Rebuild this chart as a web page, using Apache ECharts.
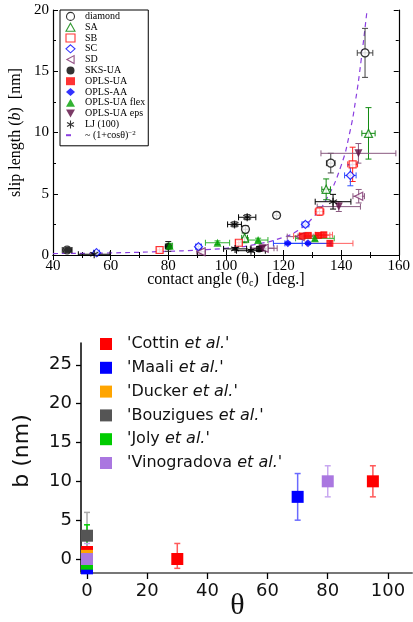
<!DOCTYPE html>
<html>
<head>
<meta charset="utf-8">
<script src="https://cdn.jsdelivr.net/npm/echarts@6/dist/echarts.min.js"></script>
<style>
  html, body { margin: 0; padding: 0; background: #fff; }
  #main { width: 413px; height: 622px; }
</style>
</head>
<body>
<div id="main"></div>
<script>
// top panel points: [theta, b, dTheta, dB]
const diamondPts = [[44.9, 0.41, 1.7, 0.15], [106.8, 2.1, 1.0, 0.3], [117.6, 3.24, 1.0, 0.25], [136.4, 7.5, 1.5, 0.8], [148.3, 16.5, 2.7, 2.0]]
const saPts = [[106.5, 1.4, 1.0, 0.4], [134.8, 5.36, 1.5, 0.85], [149.5, 9.93, 2.3, 2.1]]
const sbPts = [[77.0, 0.41, 1.0, 0.2], [104.5, 1.0, 1.0, 0.2], [132.5, 3.55, 1.5, 0.3], [144.0, 7.4, 1.7, 1.4]]
const scPts = [[55.1, 0.19, 1.0, 0.1], [90.5, 0.68, 1.0, 0.2], [127.6, 2.5, 1.2, 0.2], [143.2, 6.5, 2.0, 0.85]]
const sdPts = [[91.4, 0.27, 1.5, 0.2], [113.3, 0.55, 4.5, 0.2], [125.8, 1.5, 4.5, 0.2], [146.1, 4.8, 2.0, 0.55]]
const sksPts = [[45.0, 0.4, 1.5, 0.1], [80.0, 0.7, 1.0, 0.4], [111.5, 0.5, 3.0, 0.2]]
const oplsUaPts = [[126.5, 1.55, 3, 0.2], [128.6, 1.6, 3, 0.2], [132.1, 1.6, 4, 0.2], [134.0, 1.65, 3, 0.2], [136.1, 0.95, 8, 0.2]]
const oplsAaPts = [[121.5, 0.95, 5, 0.1], [128.5, 0.95, 8, 0.1]]
const flexPts = [[80.5, 0.75, 1, 0.2], [97.1, 1.0, 4.2, 0.15], [111.2, 1.22, 3.4, 0.15], [130.9, 1.36, 6.7, 0.2]]
const epsPts = [[112.7, 0.55, 4, 0.2], [139.2, 3.95, 7.5, 0.4], [146.0, 8.3, 13, 0.8]]
const ljPts = [[54.3, 0.06, 5.5, 0.1], [103.0, 2.5, 2.4, 0.2], [107.4, 3.08, 3.0, 0.2], [103.2, 0.5, 4, 0.1], [108.7, 0.35, 5, 0.1], [137.2, 4.35, 6.2, 0.6]]
const curvePts = [[40, 0.12], [60, 0.17], [80, 0.3], [90, 0.4], [100, 0.55], [110, 0.85], [120, 1.45], [125, 2.0], [130, 3.0], [135, 4.6], [140, 7.3], [143, 10.0], [145, 12.6], [147, 16.0], [149, 20.0]]
const curveName = '~ (1+cosθ)'

// bottom panel points: [theta, b, bLow, bHigh]
const cottinPts = [[0, 0.9], [30, 0, -1.2, 2], [95, 10, 8, 12]]
const maaliPts = [[0, -1.2], [70, 8, 5, 11]]
const duckerPts = [[0, 0.4]]
const bouziguesPts = [[0, 3.0, 0, 6]]
const jolyPts = [[0, -0.6, -2, 4.4]]
const vinoPts = [[0, 0, -2, 2], [80, 10, 8, 12]]

const asterisk = 'path://M5,0L5,10M0.67,2.5L9.33,7.5M0.67,7.5L9.33,2.5'
const leftTri = 'path://M0,5L9,0L9,10Z'
const downTri = 'path://M0,0L10,0L5,9Z'

const topGroups = [
  { name: 'diamond', data: diamondPts, color: '#000', err: '#444', symbol: 'circle', hollow: true, size: 8 },
  { name: 'SA', data: saPts, color: '#008000', err: '#108a10', symbol: 'triangle', hollow: true, size: 8 },
  { name: 'SB', data: sbPts, color: '#ff0000', err: '#ff2020', symbol: 'rect', hollow: true, size: 7 },
  { name: 'SC', data: scPts, color: '#0000ff', err: '#3050ff', symbol: 'diamond', hollow: true, size: 8 },
  { name: 'SD', data: sdPts, color: '#7a2a6a', err: '#8a5a80', symbol: leftTri, hollow: true, size: 8 },
  { name: 'SKS-UA', data: sksPts, color: '#000', err: '#222', symbol: 'circle', size: 7 },
  { name: 'OPLS-UA', data: oplsUaPts, color: '#ff0000', err: '#ff6060', symbol: 'rect', size: 7 },
  { name: 'OPLS-AA', data: oplsAaPts, color: '#0000ff', err: '#2040ff', symbol: 'diamond', size: 8 },
  { name: 'OPLS-UA flex', data: flexPts, color: '#00a000', err: '#30b030', symbol: 'triangle', size: 8 },
  { name: 'OPLS-UA eps', data: epsPts, color: '#5a0a40', err: '#8a5a80', symbol: downTri, size: 8 },
  { name: 'LJ (100)', data: ljPts, color: '#000', err: '#000', symbol: asterisk, star: true, size: 8 },
]

const botGroups = [
  { name: "'Cottin et al.'", data: cottinPts, color: '#ff0000', err: '#ff5a5a' },
  { name: "'Maali et al.'", data: maaliPts, color: '#0000ff', err: '#6a6aff' },
  { name: "'Ducker et al.'", data: duckerPts, color: '#ffa500', err: '#ffc060' },
  { name: "'Bouzigues et al.'", data: bouziguesPts, color: '#555555', err: '#aaaaaa' },
  { name: "'Joly et al.'", data: jolyPts, color: '#00cc00', err: '#00cc00' },
  { name: "'Vinogradova et al.'", data: vinoPts, color: '#aa77e0', err: '#c8a8f0' },
]

const serif = 'Liberation Serif'
const sans = 'DejaVu Sans'

function topErr(color) {
  return (params, api) => {
    const x = api.value(0), y = api.value(1), dx = api.value(2), dy = api.value(3)
    const c = api.coord([x, y])
    const l = api.coord([x - dx, y])[0], r = api.coord([x + dx, y])[0]
    const t = api.coord([x, y + dy])[1], b = api.coord([x, y - dy])[1]
    const cap = 3
    const st = { stroke: color, lineWidth: 1 }
    const ln = (x1, y1, x2, y2) => ({ type: 'line', shape: { x1, y1, x2, y2 }, style: st })
    return {
      type: 'group',
      children: [
        ln(l, c[1], r, c[1]), ln(l, c[1] - cap, l, c[1] + cap), ln(r, c[1] - cap, r, c[1] + cap),
        ln(c[0], t, c[0], b), ln(c[0] - cap, t, c[0] + cap, t), ln(c[0] - cap, b, c[0] + cap, b),
      ],
    }
  }
}

function botErr(color) {
  return (params, api) => {
    const x = api.value(0), lo = api.value(2), hi = api.value(3)
    const t = api.coord([x, hi]), b = api.coord([x, lo])
    const cap = 3
    const st = { stroke: color, lineWidth: 1.5 }
    const ln = (x1, y1, x2, y2) => ({ type: 'line', shape: { x1, y1, x2, y2 }, style: st })
    return {
      type: 'group',
      children: [ln(t[0], t[1], b[0], b[1]), ln(t[0] - cap, t[1], t[0] + cap, t[1]), ln(b[0] - cap, b[1], b[0] + cap, b[1])],
    }
  }
}

const series = []

series.push({
  name: curveName,
  type: 'line',
  xAxisIndex: 0,
  yAxisIndex: 0,
  data: curvePts,
  smooth: true,
  symbol: 'none',
  clip: true,
  lineStyle: { color: '#8a3ee0', width: 1.2, type: [5, 4] },
  itemStyle: { color: '#8a3ee0' },
  z: 1,
})

topGroups.forEach(g => {
  series.push({
    type: 'custom',
    xAxisIndex: 0,
    yAxisIndex: 0,
    silent: true,
    clip: true,
    encode: { x: 0, y: 1 },
    data: g.data,
    renderItem: topErr(g.err),
    z: 2,
  })
  series.push({
    name: g.name,
    type: 'scatter',
    xAxisIndex: 0,
    yAxisIndex: 0,
    data: g.data.map(p => [p[0], p[1]]),
    symbol: g.symbol,
    symbolSize: g.size,
    itemStyle: g.star
      ? { color: 'rgba(0,0,0,0)', borderColor: g.color, borderWidth: 1.3 }
      : g.hollow
        ? { color: '#fff', borderColor: g.color, borderWidth: 1.2 }
        : { color: g.color },
    z: 3,
  })
})

botGroups.forEach(g => {
  series.push({
    type: 'custom',
    xAxisIndex: 2,
    yAxisIndex: 2,
    silent: true,
    clip: true,
    encode: { x: 0, y: 1 },
    data: g.data.filter(p => p.length === 4),
    renderItem: botErr(g.err),
    z: 2,
  })
  series.push({
    name: g.name,
    type: 'scatter',
    xAxisIndex: 2,
    yAxisIndex: 2,
    data: g.data.map(p => [p[0], p[1]]),
    symbol: 'rect',
    symbolSize: 12,
    clip: true,
    itemStyle: { color: g.color, opacity: 1 },
    z: 2,
  })
})

const topAxisBase = {
  gridIndex: 0,
  axisLine: { lineStyle: { color: '#000', width: 1.2 } },
  axisTick: { inside: true, length: 5, lineStyle: { color: '#000' } },
  minorTick: { show: true, splitNumber: 2, length: 3, lineStyle: { color: '#000' } },
  splitLine: { show: false },
}

const topLegendData = topGroups.map(g => (g.hollow || g.star)
  ? { name: g.name, itemStyle: { borderWidth: 1.1 } }
  : g.name)
topLegendData.push({ name: curveName, itemStyle: { color: 'rgba(0,0,0,0)', borderWidth: 0 } })

const option = {
  animation: false,
  backgroundColor: '#fff',
  grid: [
    { left: 49, top: 10, width: 351, height: 245 },
    { left: 81, top: 343, width: 331, height: 230 },
  ],
  legend: [
    {
      orient: 'vertical',
      left: 60,
      top: 10,
      padding: [1, 3, 4, 5],
      itemWidth: 9,
      itemHeight: 8,
      itemGap: 0,
      borderColor: '#000',
      borderWidth: 1,
      selectedMode: false,
      data: topLegendData,
      formatter: n => n === curveName ? n + '{sup|−2}' : n,
      textStyle: {
        fontFamily: serif, fontSize: 10, lineHeight: 10.8, color: '#000', padding: [0, 0, 0, 5],
        rich: { sup: { fontFamily: serif, fontSize: 7, lineHeight: 10.8, verticalAlign: 'top', padding: [0, 0, 5, 0] } },
      },
    },
    {
      orient: 'vertical',
      left: 100,
      top: 336,
      padding: 0,
      itemWidth: 12,
      itemHeight: 12,
      itemGap: 7.8,
      selectedMode: false,
      data: botGroups.map(g => g.name),
      formatter: n => n.replace('et al.', '{i|et al.}'),
      textStyle: {
        fontFamily: sans, fontSize: 16, color: '#111', padding: [0, 0, 0, 10],
        rich: { i: { fontFamily: sans, fontSize: 16, fontStyle: 'italic', color: '#111' } },
      },
    },
  ],
  xAxis: [
    {
      ...topAxisBase,
      type: 'value', min: 40, max: 160, interval: 20, position: 'bottom',
      axisLabel: { fontFamily: serif, fontSize: 15, color: '#000', margin: 4 },
      name: 'contact angle (θ{sub|c})  [deg.]',
      nameLocation: 'middle',
      nameGap: 17,
      nameMoveOverlap: false,
      nameTextStyle: {
        fontFamily: serif, fontSize: 16, color: '#000',
        rich: { sub: { fontFamily: serif, fontSize: 10, verticalAlign: 'bottom', padding: [6, 0, 0, 0] } },
      },
    },
    {
      ...topAxisBase,
      type: 'value', min: 40, max: 160, interval: 20, position: 'top',
      axisLabel: { show: false },
    },
    {
      gridIndex: 1,
      type: 'value', min: -2, max: 108, position: 'bottom',
      axisLine: { onZero: false, lineStyle: { color: '#777', width: 2 } },
      axisTick: { customValues: [0, 20, 40, 60, 80, 100], length: 6, lineStyle: { color: '#000', width: 1.3 } },
      axisLabel: { customValues: [0, 20, 40, 60, 80, 100], fontFamily: sans, fontSize: 18, color: '#111', margin: 9 },
      splitLine: { show: false },
      name: 'θ',
      nameLocation: 'middle',
      nameGap: 18,
      nameMoveOverlap: false,
      nameTextStyle: { fontFamily: serif, fontSize: 30, color: '#111', padding: [0, 18, 0, 0] },
    },
  ],
  yAxis: [
    {
      ...topAxisBase,
      type: 'value', min: 0, max: 20, interval: 5, position: 'left',
      axisLabel: { fontFamily: serif, fontSize: 15, color: '#000', margin: 4 },
      name: 'slip length ({i|b})  [nm]',
      nameLocation: 'middle',
      nameGap: 29,
      nameMoveOverlap: false,
      nameTextStyle: {
        fontFamily: serif, fontSize: 16, color: '#000',
        rich: { i: { fontFamily: serif, fontSize: 16, fontStyle: 'italic' } },
      },
    },
    {
      ...topAxisBase,
      type: 'value', min: 0, max: 20, interval: 5, position: 'right',
      axisLabel: { show: false },
    },
    {
      gridIndex: 1,
      type: 'value', min: -1.8, max: 27.8, position: 'left',
      axisLine: { onZero: false, lineStyle: { color: '#000', width: 1.5 } },
      axisTick: { customValues: [0, 5, 10, 15, 20, 25], length: 5, lineStyle: { color: '#000', width: 1.3 } },
      axisLabel: { customValues: [0, 5, 10, 15, 20, 25], fontFamily: sans, fontSize: 18, color: '#111', margin: 9 },
      splitLine: { show: false },
      name: 'b (nm)',
      nameLocation: 'middle',
      nameGap: 48,
      nameMoveOverlap: false,
      nameTextStyle: { fontFamily: sans, fontSize: 22, color: '#111', padding: [0, 0, 0, 14] },
    },
  ],
  series,
}

const chart = echarts.init(document.getElementById('main'), null, { renderer: 'canvas' })
chart.setOption(option)
</script>
</body>
</html>
